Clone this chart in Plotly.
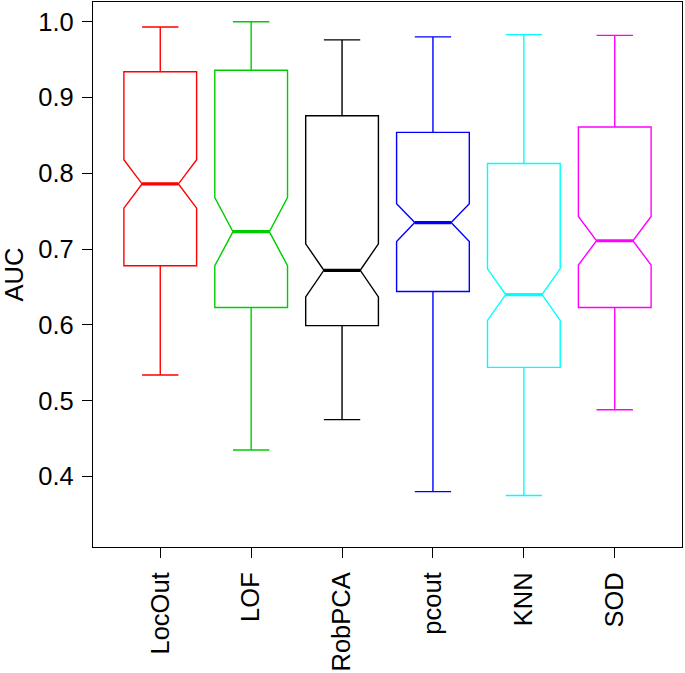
import plotly.graph_objects as go

methods = ["LocOut", "LOF", "RobPCA", "pcout", "KNN", "SOD"]
colors = ["#FF0000", "#00CD00", "#000000", "#0000FF", "#00FFFF", "#FF00FF"]
upper_whisker = [0.993, 1.000, 0.976, 0.980, 0.983, 0.982]
q3_vals = [0.934, 0.936, 0.876, 0.854, 0.813, 0.861]
median_vals = [0.786, 0.723, 0.672, 0.735, 0.640, 0.711]
q1_vals = [0.678, 0.623, 0.599, 0.644, 0.544, 0.623]
lower_whisker = [0.534, 0.435, 0.475, 0.380, 0.375, 0.488]
notch_span = [0.032, 0.045, 0.035, 0.025, 0.034, 0.032]
y_ticks = [0.4, 0.5, 0.6, 0.7, 0.8, 0.9, 1.0]
y_tick_text = ["0.4", "0.5", "0.6", "0.7", "0.8", "0.9", "1.0"]

FONT = "Liberation Sans, Arial, Helvetica, sans-serif"
FS = 25.5

fig = go.Figure()
positions = list(range(1, len(methods) + 1))
for i, m in enumerate(methods):
    fig.add_trace(go.Box(
        x=[positions[i]], q1=[q1_vals[i]], median=[median_vals[i]], q3=[q3_vals[i]],
        lowerfence=[lower_whisker[i]], upperfence=[upper_whisker[i]],
        notchspan=[notch_span[i]], notched=True, notchwidth=0.25,
        whiskerwidth=0.5, width=0.8,
        line=dict(color=colors[i], width=1.4), fillcolor="rgba(0,0,0,0)",
        boxpoints=False, name=m, showlegend=False, hoverinfo="skip",
    ))
    # thicker median line (R style)
    fig.add_trace(go.Scatter(
        x=[positions[i] - 0.2, positions[i] + 0.2], y=[median_vals[i], median_vals[i]],
        mode="lines", line=dict(color=colors[i], width=3.2),
        showlegend=False, hoverinfo="skip",
    ))

fig.update_layout(
    width=685, height=673,
    margin=dict(l=93, r=3, t=2, b=126, autoexpand=False),
    paper_bgcolor="white", plot_bgcolor="white",
    font=dict(family=FONT, size=FS, color="black"),
)
fig.update_xaxes(
    range=[0.26, 6.74], tickmode="array", tickvals=positions, ticktext=methods,
    tickangle=-90, ticks="outside", ticklen=10, tickcolor="black", tickwidth=1.2,
    showline=True, linecolor="black", linewidth=1.2, mirror=True,
    showgrid=False, zeroline=False, ticklabelstandoff=4, automargin=False,
    tickfont=dict(family=FONT, size=FS, color="black"),
)
fig.update_yaxes(
    range=[0.307, 1.026], tickmode="array", tickvals=y_ticks, ticktext=y_tick_text,
    ticks="outside", ticklen=10, tickcolor="black", tickwidth=1.2,
    showline=True, linecolor="black", linewidth=1.2, mirror=True,
    showgrid=False, zeroline=False, ticklabelstandoff=3, automargin=False,
    tickfont=dict(family=FONT, size=FS, color="black"),
    title=dict(text="AUC", font=dict(family=FONT, size=FS, color="black"), standoff=12),
)

fig.write_html(
    "out.html",
    config={"displayModeBar": False},
    post_script="document.body.style.margin='0';document.body.style.overflow='hidden';",
)
